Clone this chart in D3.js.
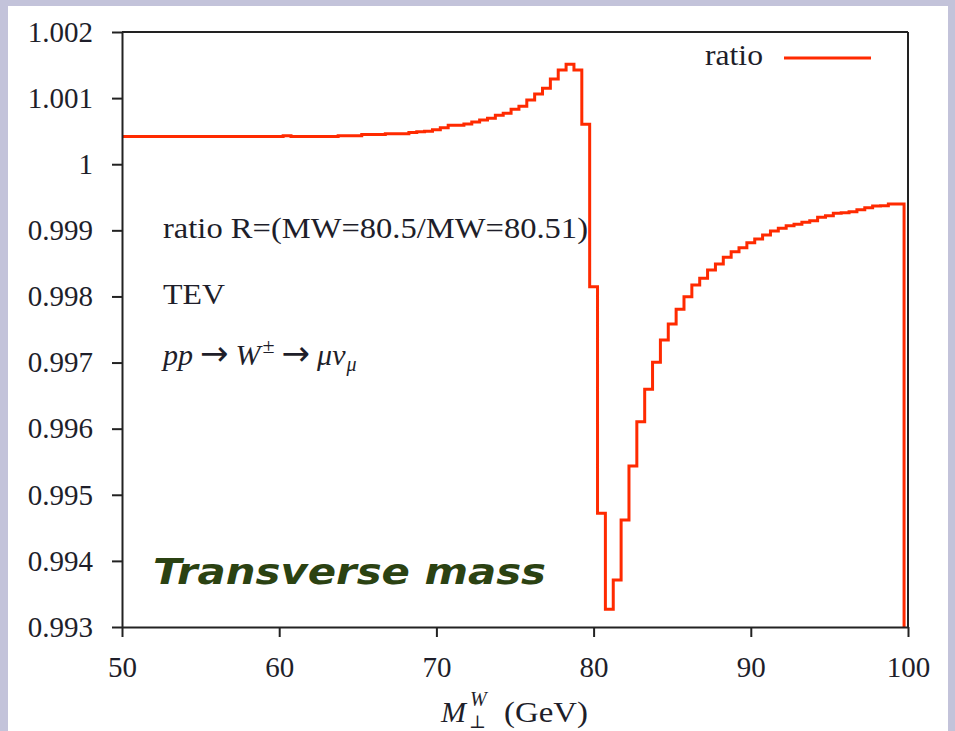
<!DOCTYPE html>
<html><head><meta charset="utf-8">
<script src="https://cdn.jsdelivr.net/npm/d3@7"></script>
<style>body{margin:0;background:#fff}svg{display:block}</style>
</head><body><svg id="c" width="955" height="731"></svg>
<script>
// bin centres (GeV), drawn as steps
const massGeV = [
49.75,50.25,50.75,51.25,51.75,52.25,52.75,53.25,53.75,54.25,
54.75,55.25,55.75,56.25,56.75,57.25,57.75,58.25,58.75,59.25,
59.75,60.25,60.75,61.25,61.75,62.25,62.75,63.25,63.75,64.25,
64.75,65.25,65.75,66.25,66.75,67.25,67.75,68.25,68.75,69.25,
69.75,70.25,70.75,71.25,71.75,72.25,72.75,73.25,73.75,74.25,
74.75,75.25,75.75,76.25,76.75,77.25,77.75,78.25,78.75,79.25,
79.75,80.25,80.75,81.25,81.75,82.25,82.75,83.25,83.75,84.25,
84.75,85.25,85.75,86.25,86.75,87.25,87.75,88.25,88.75,89.25,
89.75,90.25,90.75,91.25,91.75,92.25,92.75,93.25,93.75,94.25,
94.75,95.25,95.75,96.25,96.75,97.25,97.75,98.25,98.75,99.25,
99.75];
const ratio = [
1.00042,1.00042,1.00042,1.00042,1.00042,1.00042,1.00042,1.00042,1.00042,1.00042,
1.00042,1.00042,1.00042,1.00042,1.00042,1.00042,1.00042,1.00042,1.00042,1.00042,
1.00042,1.00043,1.00042,1.00042,1.00042,1.00042,1.00042,1.00042,1.00043,1.00043,
1.00043,1.00045,1.00045,1.00045,1.00046,1.00046,1.00046,1.00048,1.00049,1.00050,
1.00052,1.000552,1.000589,1.000589,1.000608,1.000639,1.000669,1.000695,1.00074,1.00077,
1.000831,1.000876,1.000971,1.001062,1.001148,1.001289,1.001425,1.001511,1.001425,1.000604,
0.998147,0.99472,0.993268,0.993711,0.994618,0.995435,0.996105,0.996595,0.997004,0.997341,
0.997583,0.997806,0.997996,0.998173,0.998274,0.9984,0.998491,0.998592,0.998677,0.998737,
0.998813,0.998869,0.998929,0.99899,0.999031,0.99907,0.999091,0.999122,0.999146,0.999197,
0.999221,0.999258,0.999265,0.999282,0.999312,0.999342,0.999368,0.999372,0.999398,0.999398,
0];
const xTicks = [50,60,70,80,90,100];
const yTicks = [1.002,1.001,1,0.999,0.998,0.997,0.996,0.995,0.994,0.993];
const yTickLabels = ["1.002","1.001","1","0.999","0.998","0.997","0.996","0.995","0.994","0.993"];
const seriesName = "ratio";
const noteLines = ["ratio R=(MW=80.5/MW=80.51)", "TEV"];
const slideTitle = "Transverse mass";

const W = 955, H = 731;
const svg = d3.select("#c");
const serif = "'Liberation Serif', 'DejaVu Serif', serif";
const ink = "#1e1e2a";
const red = "#ff2a00";

// slide background
svg.append("rect").attr("width", W).attr("height", H).attr("fill", "#c3c3da");
svg.append("rect").attr("x", 8).attr("y", 6).attr("width", 940).attr("height", H - 6).attr("fill", "#fff");

const x = d3.scaleLinear().domain([50, 100]).range([122, 908]);
const y = d3.scaleLinear().domain([0.993, 1.002]).range([627, 32]);

svg.append("clipPath").attr("id", "pc").append("rect")
  .attr("x", x(50)).attr("y", y(1.002)).attr("width", x(100) - x(50)).attr("height", y(0.993) - y(1.002));

const line = d3.line().x((d, i) => x(massGeV[i])).y(d => y(d)).curve(d3.curveStepAfter);
svg.append("path").datum(ratio).attr("clip-path", "url(#pc)")
  .attr("d", line).attr("fill", "none").attr("stroke", red).attr("stroke-width", 3)
  .attr("stroke-linejoin", "miter");

// axes
const yAxis = d3.axisLeft(y).tickValues(yTicks).tickFormat((d, i) => yTickLabels[i])
  .tickSize(10).tickSizeOuter(0).tickPadding(19);
const xAxis = d3.axisBottom(x).tickValues(xTicks).tickFormat(d3.format("d"))
  .tickSize(10).tickSizeOuter(0).tickPadding(19);

const gy = svg.append("g").attr("transform", `translate(${x(50)},0)`).call(yAxis);
const gx = svg.append("g").attr("transform", `translate(0,${y(0.993)})`).call(xAxis);
[gx, gy].forEach(g => {
  g.select(".domain").attr("stroke", "#222").attr("stroke-width", 2);
  g.selectAll(".tick line").attr("stroke", "#222").attr("stroke-width", 2);
  g.selectAll(".tick text").attr("fill", ink).attr("font-family", serif).attr("font-size", 29);
});
// frame top and right
svg.append("line").attr("x1", x(50)).attr("x2", x(100)).attr("y1", y(1.002)).attr("y2", y(1.002))
  .attr("stroke", "#222").attr("stroke-width", 2);
svg.append("line").attr("x1", x(100)).attr("x2", x(100)).attr("y1", y(1.002)).attr("y2", y(0.993))
  .attr("stroke", "#222").attr("stroke-width", 2);

// legend
svg.append("text").attr("x", 705).attr("y", 65).attr("font-family", serif).attr("font-size", 29)
  .attr("fill", ink).attr("textLength", 58).attr("lengthAdjust", "spacingAndGlyphs").text(seriesName);
svg.append("line").attr("x1", 784).attr("x2", 871).attr("y1", 58).attr("y2", 58)
  .attr("stroke", red).attr("stroke-width", 3);

// annotations
svg.append("text").attr("x", 163).attr("y", 238).attr("font-family", serif).attr("font-size", 30)
  .attr("fill", ink).attr("textLength", 425).attr("lengthAdjust", "spacingAndGlyphs").text(noteLines[0]);
svg.append("text").attr("x", 163).attr("y", 304).attr("font-family", serif).attr("font-size", 30)
  .attr("fill", ink).attr("textLength", 62).attr("lengthAdjust", "spacingAndGlyphs").text(noteLines[1]);

const mt = svg.append("text").attr("x", 163).attr("y", 365).attr("font-family", serif)
  .attr("font-size", 30).attr("fill", ink);
mt.append("tspan").attr("font-style", "italic").text("pp");
mt.append("tspan").attr("dx", 7).attr("font-family", "'DejaVu Sans', sans-serif").attr("font-size", 34).text("→");
mt.append("tspan").attr("dx", 7).attr("font-style", "italic").text("W");
mt.append("tspan").attr("font-size", 22).attr("dx", 2).attr("dy", -12).text("±");
mt.append("tspan").attr("dx", 7).attr("dy", 12).attr("font-family", "'DejaVu Sans', sans-serif").attr("font-size", 34).text("→");
mt.append("tspan").attr("dx", 7).attr("font-style", "italic").text("μν");
mt.append("tspan").attr("font-size", 20).attr("dx", 1).attr("dy", 6).attr("font-style", "italic").text("μ");

// x-axis title
svg.append("text").attr("x", 441).attr("y", 722).attr("font-family", serif).attr("font-size", 30)
  .attr("font-style", "italic").attr("fill", ink).text("M");
svg.append("text").attr("x", 470).attr("y", 706).attr("font-family", serif).attr("font-size", 20)
  .attr("font-style", "italic").attr("fill", ink).text("W");
svg.append("text").attr("x", 469).attr("y", 728).attr("font-family", serif).attr("font-size", 18)
  .attr("fill", ink).text("⊥");
svg.append("text").attr("x", 504).attr("y", 722).attr("font-family", serif).attr("font-size", 30)
  .attr("fill", ink).attr("textLength", 84).attr("lengthAdjust", "spacingAndGlyphs").text("(GeV)");

// slide title
svg.append("text").attr("x", 153).attr("y", 584).attr("font-family", "'DejaVu Sans', sans-serif")
  .attr("font-size", 35).attr("font-weight", "bold").attr("font-style", "italic").attr("fill", "#2b4212")
  .attr("textLength", 393).attr("lengthAdjust", "spacingAndGlyphs").text(slideTitle);
</script></body></html>
